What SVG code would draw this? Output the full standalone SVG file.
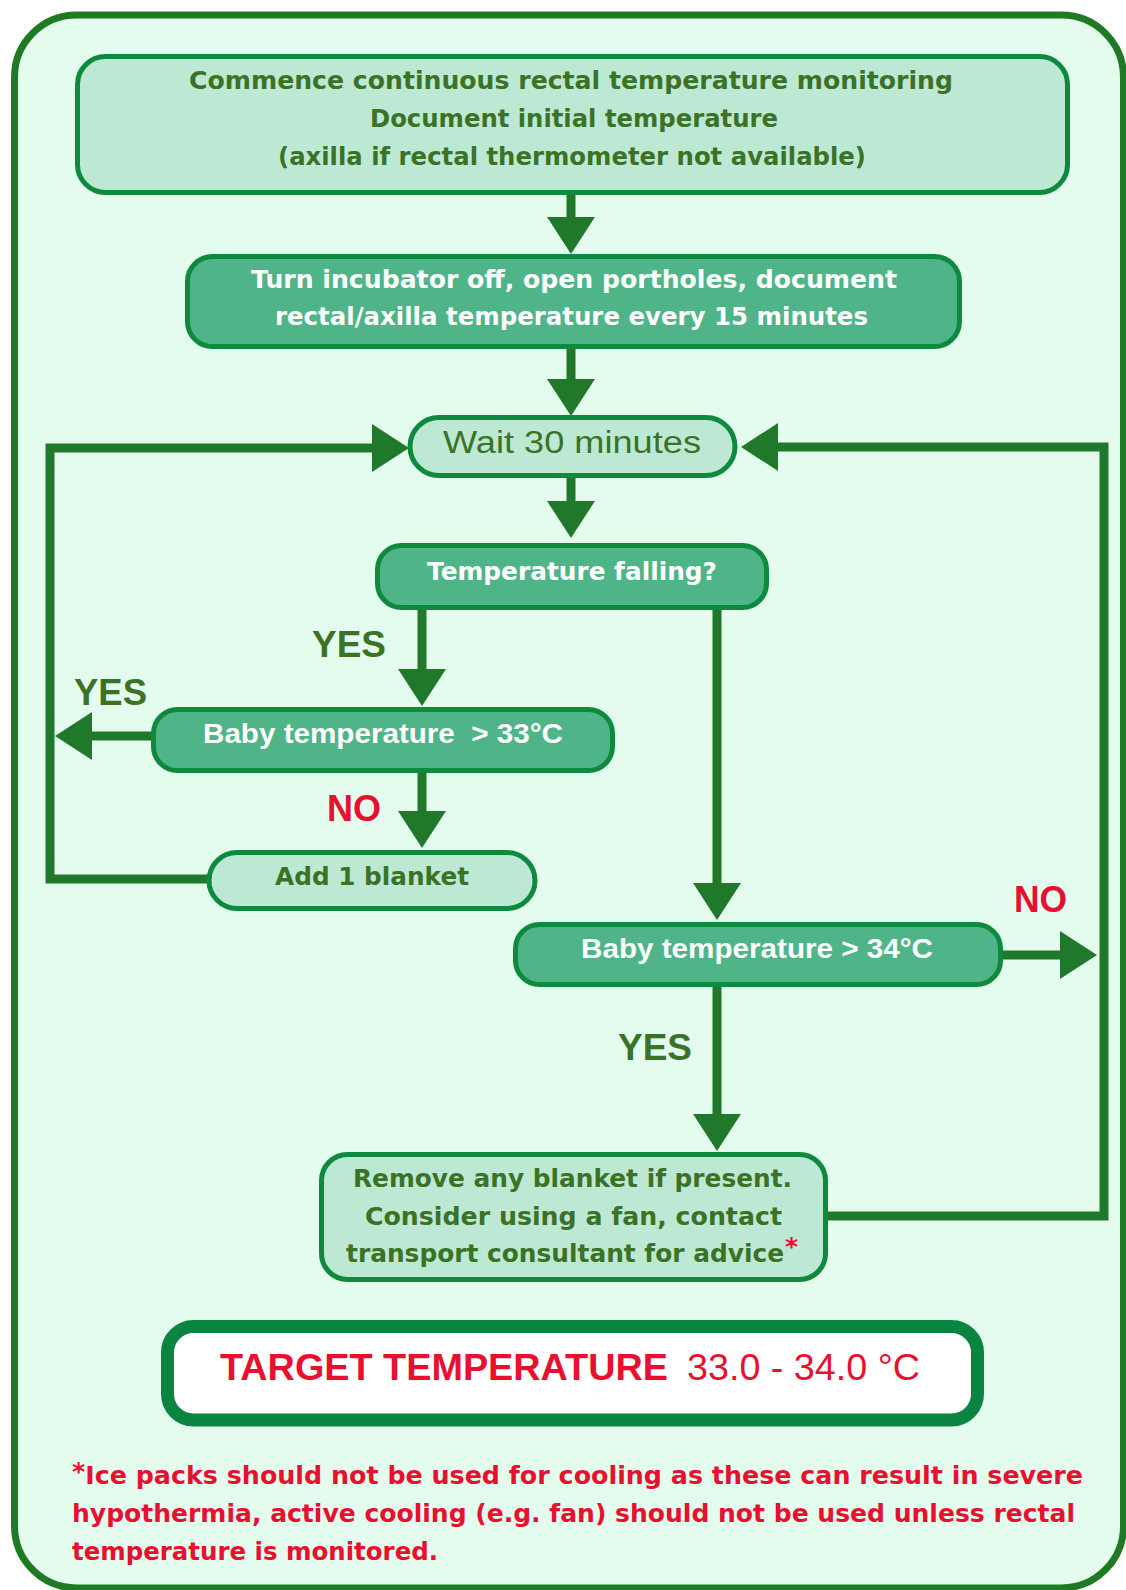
<svg xmlns="http://www.w3.org/2000/svg" width="1126" height="1590" viewBox="0 0 1126 1590">
<defs>
<style>
.light{fill:#bde9d4;stroke:#0e8a3e;stroke-width:5}
.mid{fill:#4fb589;stroke:#0e8a3e;stroke-width:5}
.conn{fill:none;stroke:#20792a;stroke-width:9}
.vb{font-family:"DejaVu Sans",Verdana,sans-serif;font-weight:bold;font-size:25px}
.ab{font-family:"Liberation Sans",Arial,sans-serif;font-weight:bold}
.ar{font-family:"Liberation Sans",Arial,sans-serif}
.dk{fill:#3a7325}
.wh{fill:#ffffff}
.rd{fill:#e8102e}
</style>
<marker id="ah" markerUnits="userSpaceOnUse" markerWidth="37" markerHeight="48" viewBox="0 0 37 48" refX="1" refY="24" orient="auto">
<path d="M0,0 L37,24 L0,48 Z" fill="#20792a"/>
</marker>
</defs>
<rect x="0" y="0" width="1126" height="1590" fill="#ffffff"/>
<rect x="14.5" y="15" width="1109" height="1573" rx="62" fill="#e3fcee" stroke="#1f7a24" stroke-width="7"/>

<g id="connectors">
<path class="conn" d="M571,195 V218" marker-end="url(#ah)"/>
<path class="conn" d="M571,349 V380" marker-end="url(#ah)"/>
<path class="conn" d="M571,478 V502" marker-end="url(#ah)"/>
<path class="conn" d="M422,610 V670" marker-end="url(#ah)"/>
<path class="conn" d="M422,773 V812" marker-end="url(#ah)"/>
<path class="conn" d="M153,736 H91" marker-end="url(#ah)"/>
<path class="conn" d="M209,879 H50 V448 H373" marker-end="url(#ah)"/>
<path class="conn" d="M717,610 V884" marker-end="url(#ah)"/>
<path class="conn" d="M717,987 V1115" marker-end="url(#ah)"/>
<path class="conn" d="M1002,955 H1061" marker-end="url(#ah)"/>
<path class="conn" d="M828,1216 H1104 V447 H777" marker-end="url(#ah)"/>
</g>

<g id="node-commence">
<rect class="light" x="77.5" y="56.5" width="990" height="136" rx="28"/>
<text class="vb dk" x="189" y="89" textLength="764" lengthAdjust="spacingAndGlyphs">Commence continuous rectal temperature monitoring</text>
<text class="vb dk" x="370" y="127" textLength="408" lengthAdjust="spacingAndGlyphs">Document initial temperature</text>
<text class="vb dk" x="278" y="165" textLength="588" lengthAdjust="spacingAndGlyphs">(axilla if rectal thermometer not available)</text>
</g>

<g id="node-incubator">
<rect class="mid" x="187.5" y="256.5" width="772" height="90" rx="25"/>
<text class="vb wh" x="251" y="288" textLength="646" lengthAdjust="spacingAndGlyphs">Turn incubator off, open portholes, document</text>
<text class="vb wh" x="275" y="325" textLength="593" lengthAdjust="spacingAndGlyphs">rectal/axilla temperature every 15 minutes</text>
</g>

<g id="node-wait">
<rect class="light" x="410" y="417.5" width="325" height="58" rx="29"/>
<text class="ar dk" font-size="31" x="443" y="453" textLength="258" lengthAdjust="spacingAndGlyphs">Wait 30 minutes</text>
</g>

<g id="node-falling">
<rect class="mid" x="377.5" y="545.5" width="389" height="62" rx="24"/>
<text class="vb wh" font-size="24" x="427" y="580" textLength="290" lengthAdjust="spacingAndGlyphs">Temperature falling?</text>
</g>

<g id="node-baby33">
<rect class="mid" x="153.5" y="709.5" width="459" height="61" rx="24"/>
<text class="ab wh" font-size="28" x="203" y="743" textLength="360" lengthAdjust="spacingAndGlyphs" xml:space="preserve">Baby temperature  &gt; 33°C</text>
</g>

<g id="node-blanket">
<rect class="light" x="209" y="852.5" width="326" height="56" rx="28"/>
<text class="vb dk" font-size="24" x="275" y="885" textLength="194" lengthAdjust="spacingAndGlyphs">Add 1 blanket</text>
</g>

<g id="node-baby34">
<rect class="mid" x="515.5" y="924.5" width="485" height="60" rx="24"/>
<text class="ab wh" font-size="28" x="581" y="958" textLength="352" lengthAdjust="spacingAndGlyphs">Baby temperature &gt; 34°C</text>
</g>

<g id="node-remove">
<rect class="light" x="321.5" y="1154.5" width="504" height="125" rx="26"/>
<text class="vb dk" x="353" y="1187" textLength="439" lengthAdjust="spacingAndGlyphs">Remove any blanket if present.</text>
<text class="vb dk" x="365" y="1225" textLength="417" lengthAdjust="spacingAndGlyphs">Consider using a fan, contact</text>
<text class="vb dk" x="346" y="1262" textLength="438" lengthAdjust="spacingAndGlyphs">transport consultant for advice</text>
<text class="vb rd" font-size="20" x="785" y="1255">*</text>
</g>

<g id="labels">
<text class="ab dk" font-size="37" x="312" y="657" textLength="74" lengthAdjust="spacingAndGlyphs">YES</text>
<text class="ab dk" font-size="37" x="74" y="705" textLength="73" lengthAdjust="spacingAndGlyphs">YES</text>
<text class="ab rd" font-size="37" x="327" y="821" textLength="54" lengthAdjust="spacingAndGlyphs">NO</text>
<text class="ab rd" font-size="37" x="1014" y="912" textLength="53" lengthAdjust="spacingAndGlyphs">NO</text>
<text class="ab dk" font-size="37" x="618" y="1060" textLength="74" lengthAdjust="spacingAndGlyphs">YES</text>
</g>

<g id="node-target">
<rect x="167.5" y="1326.5" width="810" height="93.5" rx="26" fill="#ffffff" stroke="#0a8441" stroke-width="13"/>
<text class="ab rd" font-size="36" x="220" y="1380" textLength="448" lengthAdjust="spacingAndGlyphs">TARGET TEMPERATURE</text>
<text class="ar rd" font-size="36" x="687" y="1380" textLength="233" lengthAdjust="spacingAndGlyphs">33.0 - 34.0 °C</text>
</g>

<g id="footnote">
<text class="vb rd" font-size="22" x="72" y="1484" textLength="1011" lengthAdjust="spacingAndGlyphs"><tspan dy="-4">*</tspan><tspan dy="4">Ice packs should not be used for cooling as these can result in severe</tspan></text>
<text class="vb rd" font-size="22" x="72" y="1522" textLength="1003" lengthAdjust="spacingAndGlyphs">hypothermia, active cooling (e.g. fan) should not be used unless rectal</text>
<text class="vb rd" font-size="22" x="72" y="1560" textLength="366" lengthAdjust="spacingAndGlyphs">temperature is monitored.</text>
</g>
</svg>
